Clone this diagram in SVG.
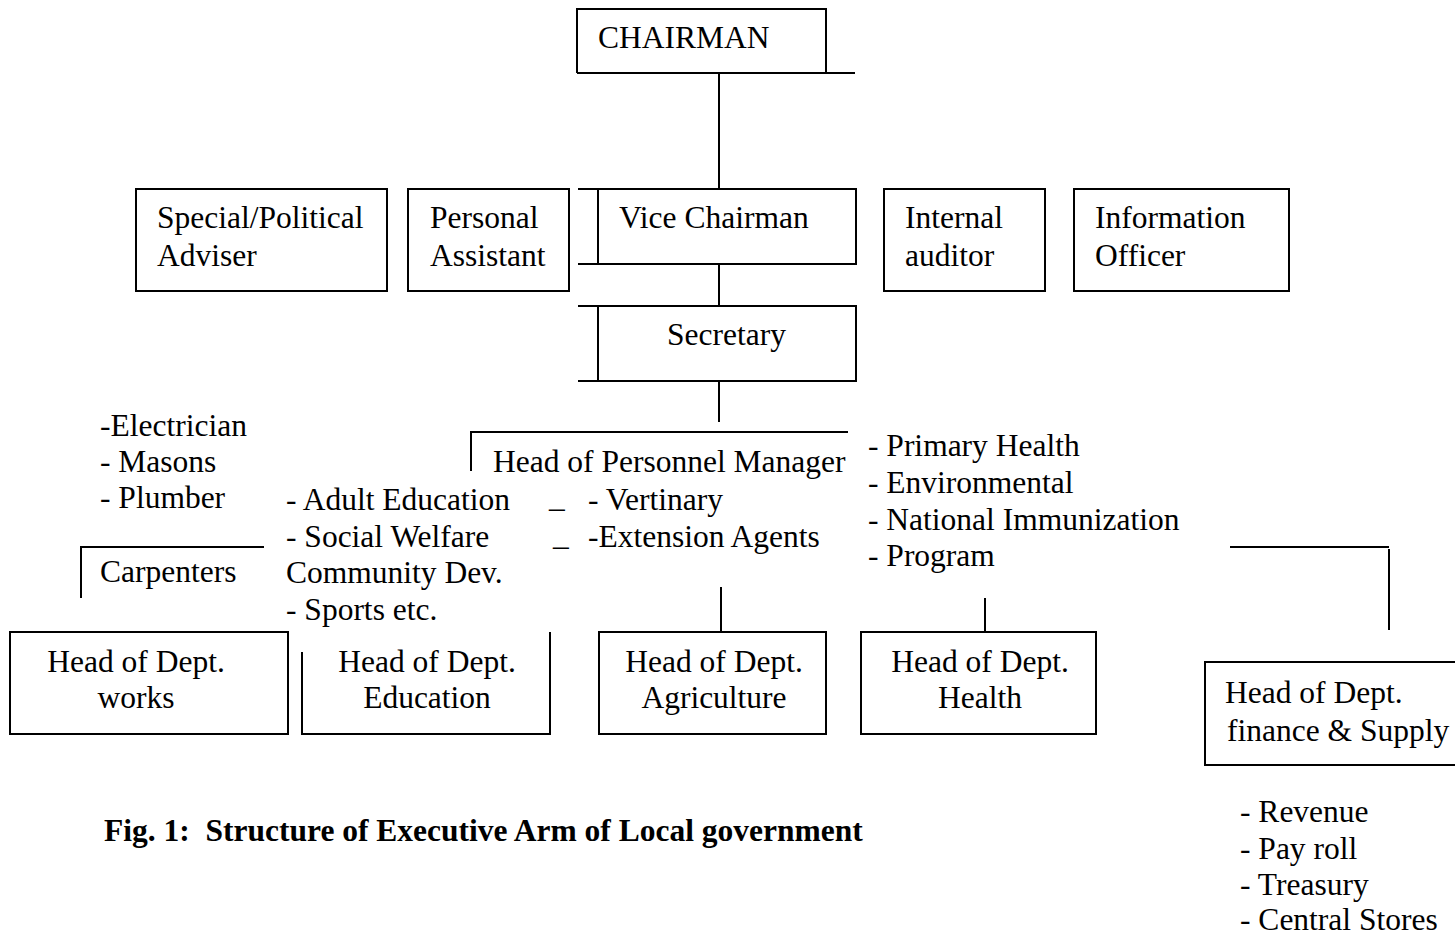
<svg xmlns="http://www.w3.org/2000/svg" width="1455" height="937" viewBox="0 0 1455 937">
<style>
text{font-family:"Liberation Serif","Times New Roman",serif;font-size:31.5px;fill:#000;white-space:pre}
.b{fill:none;stroke:#000;stroke-width:2}
.l{fill:none;stroke:#000;stroke-width:2}
.cap{font-weight:bold}
</style>
<defs>
<clipPath id="clipHPM"><rect x="480" y="430" width="368" height="60"/></clipPath>
</defs>
<rect width="1455" height="937" fill="#fff"/>
<g id="connectors">
<path class="l" d="M826 73H855"/>
<path class="l" d="M719 73V189"/>
<path class="l" d="M719 263V306"/>
<path class="l" d="M719 381V422"/>
<path class="l" d="M471 471V432H848"/>
<path class="l" d="M81 598V547H264"/>
<path class="l" d="M721 587V632"/>
<path class="l" d="M985 598V632"/>
<path class="l" d="M1230 547H1389"/>
<path class="l" d="M1389 549V630"/>
</g>
<g id="chairman">
<path class="b" d="M577 73V9H826V73H577"/>
<text x="598" y="48">CHAIRMAN</text>
</g>
<g id="special-adviser">
<rect class="b" x="136" y="189" width="251" height="102"/>
<text x="157" y="228">Special/Political</text>
<text x="157" y="266">Adviser</text>
</g>
<g id="personal-assistant">
<rect class="b" x="408" y="189" width="161" height="102"/>
<text x="430" y="228">Personal</text>
<text x="430" y="266">Assistant</text>
</g>
<g id="vice-chairman">
<path class="b" d="M578 189H856V264H578M598 189V264"/>
<text x="619" y="228">Vice Chairman</text>
</g>
<g id="internal-auditor">
<rect class="b" x="884" y="189" width="161" height="102"/>
<text x="905" y="228">Internal</text>
<text x="905" y="266">auditor</text>
</g>
<g id="information-officer">
<rect class="b" x="1074" y="189" width="215" height="102"/>
<text x="1095" y="228">Information</text>
<text x="1095" y="266">Officer</text>
</g>
<g id="secretary">
<path class="b" d="M578 306H856V381H578M598 306V381"/>
<text x="667" y="345">Secretary</text>
</g>
<g id="head-personnel">
<text x="493" y="472" clip-path="url(#clipHPM)">Head of Personnel Manager</text>
</g>
<g id="works-list">
<text x="100" y="436">-Electrician</text>
<text x="100" y="472">- Masons</text>
<text x="100" y="508">- Plumber</text>
<text x="100" y="582">Carpenters</text>
</g>
<g id="education-list">
<text x="286" y="510">- Adult Education</text>
<text x="286" y="547">- Social Welfare</text>
<text x="286" y="583">Community Dev.</text>
<text x="286" y="620">- Sports etc.</text>
<text x="549" y="507">_</text>
<text x="553" y="545">_</text>
</g>
<g id="agriculture-list">
<text x="588" y="510">- Vertinary</text>
<text x="588" y="547">-Extension Agents</text>
</g>
<g id="health-list">
<text x="868" y="456">- Primary Health</text>
<text x="868" y="493">- Environmental</text>
<text x="868" y="530">- National Immunization</text>
<text x="868" y="566">- Program</text>
</g>
<g id="hod-works">
<rect class="b" x="10" y="632" width="278" height="102"/>
<text x="136" y="672" text-anchor="middle">Head of Dept.</text>
<text x="136" y="708" text-anchor="middle">works</text>
</g>
<g id="hod-education">
<path class="b" d="M302 652V734H550V632"/>
<text x="427" y="672" text-anchor="middle">Head of Dept.</text>
<text x="427" y="708" text-anchor="middle">Education</text>
</g>
<g id="hod-agriculture">
<rect class="b" x="599" y="632" width="227" height="102"/>
<text x="714" y="672" text-anchor="middle">Head of Dept.</text>
<text x="714" y="708" text-anchor="middle">Agriculture</text>
</g>
<g id="hod-health">
<rect class="b" x="861" y="632" width="235" height="102"/>
<text x="980" y="672" text-anchor="middle">Head of Dept.</text>
<text x="980" y="708" text-anchor="middle">Health</text>
</g>
<g id="hod-finance">
<path class="b" d="M1460 662H1205V765H1460"/>
<text x="1225" y="703">Head of Dept.</text>
<text x="1227" y="741">finance &amp; Supply</text>
</g>
<g id="finance-list">
<text x="1240" y="822">- Revenue</text>
<text x="1240" y="859">- Pay roll</text>
<text x="1240" y="895">- Treasury</text>
<text x="1240" y="930">- Central Stores</text>
</g>
<g id="caption">
<text class="cap" x="104" y="841">Fig. 1:  Structure of Executive Arm of Local government</text>
</g>
</svg>
